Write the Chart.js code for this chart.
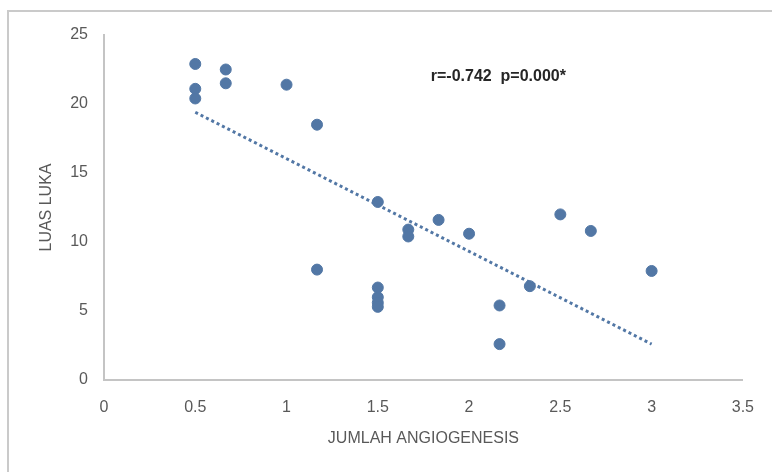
<!DOCTYPE html>
<html>
<head>
<meta charset="utf-8">
<script src="https://cdn.jsdelivr.net/npm/chart.js@4.4.1/dist/chart.umd.min.js"></script>
<style>
  html, body { margin: 0; padding: 0; background: #fff; }
  #wrap { position: relative; width: 772px; height: 472px; overflow: hidden; }
  #frame { position: absolute; left: 7px; top: 10px; width: 800px; height: 500px;
           border-top: 2px solid #cacaca; border-left: 2px solid #cacaca; }
  #grafik { position: absolute; left: 0; top: 0; }
</style>
</head>
<body>
<div id="wrap">
  <div id="frame"></div>
  <canvas id="grafik" width="772" height="472"></canvas>
</div>
<script>
'use strict';

// jumlah angiogenesis (x) dan luas luka (y)
let angiogenesis = [0.5, 0.5, 0.5, 0.667, 0.667, 1, 1.167, 1.167, 1.5, 1.5, 1.5, 1.5, 1.5,
    1.667, 1.667, 1.833, 2, 2.167, 2.167, 2.333, 2.5, 2.667, 3];
let luasLuka = [22.9, 21.1, 20.4, 22.5, 21.5, 21.4, 18.5, 8.0, 12.9, 6.7, 6.0, 5.6, 5.3,
    10.9, 10.4, 11.6, 10.6, 5.4, 2.6, 6.8, 12.0, 10.8, 7.9];

// garis tren
let trenX = [0.5, 3];
let trenY = [19.4, 2.6];

let teksKorelasi = 'r=-0.742  p=0.000*';

let titik = angiogenesis.map((x, i) => ({x: x, y: luasLuka[i]}));
let garis = trenX.map((x, i) => ({x: x, y: trenY[i]}));

const abu = '#595959';
const biru = '#5277a5';
const huruf = '"Liberation Sans", Arial, sans-serif';

// tulis teks korelasi di atas grafik
const pluginTeks = {
    id: 'teksKorelasi',
    afterDatasetsDraw(chart) {
        const ctx = chart.ctx;
        const px = chart.scales.x.getPixelForValue(1.79);
        const py = chart.scales.y.getPixelForValue(22.0);
        ctx.save();
        ctx.font = 'bold 16px ' + huruf;
        ctx.fillStyle = '#262626';
        ctx.textAlign = 'left';
        ctx.textBaseline = 'middle';
        ctx.fillText(teksKorelasi, px, py);
        ctx.restore();
    }
};

new Chart('grafik', {
    type: 'scatter',
    data: {
        datasets: [{
            label: 'Tren',
            type: 'line',
            data: garis,
            borderColor: biru,
            borderWidth: 3,
            borderDash: [3, 3],
            pointRadius: 0,
            fill: false
        }, {
            label: 'Luas luka',
            data: titik,
            backgroundColor: biru,
            borderColor: biru,
            pointRadius: 5.5,
            pointHoverRadius: 5.5
        }]
    },
    options: {
        responsive: false,
        animation: false,
        layout: { padding: { top: 35, right: 29, left: 0, bottom: 0 } },
        plugins: {
            legend: { display: false },
            tooltip: { enabled: false }
        },
        scales: {
            x: {
                type: 'linear',
                min: 0, max: 3.5,
                afterFit(s) { s.height = 92; },
                grid: { display: false, drawTicks: false },
                border: { display: true, color: '#c4c4c4', width: 2 },
                ticks: { stepSize: 0.5, padding: 18, color: abu,
                    callback: v => String(v),
                    font: { family: huruf, size: 16 } },
                title: { display: true, text: 'JUMLAH ANGIOGENESIS', color: abu,
                    padding: { bottom: 24 },
                    font: { family: huruf, size: 16 } }
            },
            y: {
                min: 0, max: 25,
                afterFit(s) { s.width = 104; },
                grid: { display: false, drawTicks: false },
                border: { display: true, color: '#c4c4c4', width: 2 },
                ticks: { stepSize: 5, padding: 16, color: abu,
                    font: { family: huruf, size: 16 } },
                title: { display: true, text: 'LUAS LUKA', color: abu,
                    padding: { top: 37 },
                    font: { family: huruf, size: 16 } }
            }
        }
    },
    plugins: [pluginTeks]
});
</script>
</body>
</html>
